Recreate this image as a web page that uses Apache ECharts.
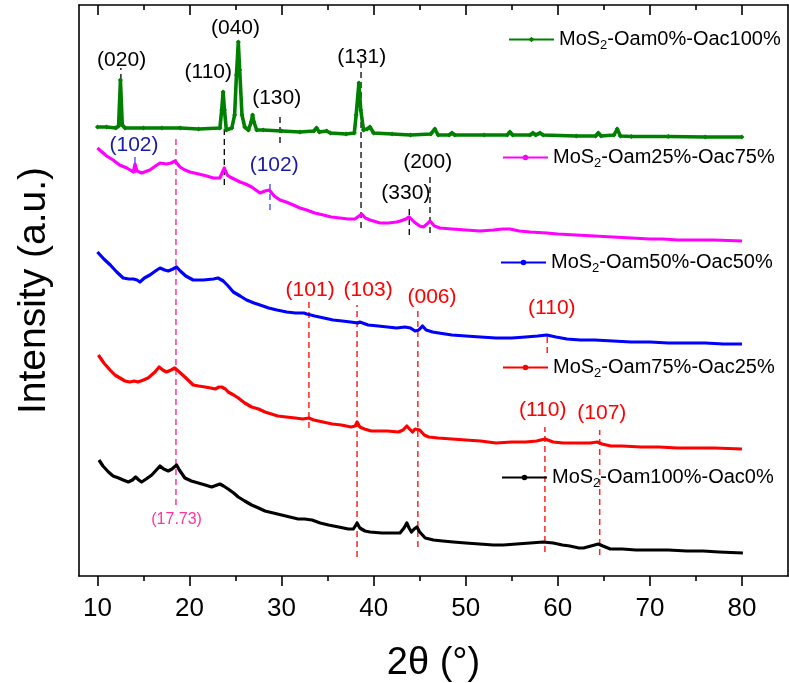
<!DOCTYPE html>
<html>
<head>
<meta charset="utf-8">
<script src="https://cdn.jsdelivr.net/npm/echarts@6/dist/echarts.min.js"></script>
<style>html,body{margin:0;padding:0;background:#fff;}#c{width:789px;height:683px;}</style>
</head>
<body>
<div id="c"></div>
<script>
// ---------------- data ----------------
const seriesNames = ['MoS2-Oam0%-Oac100%','MoS2-Oam25%-Oac75%','MoS2-Oam50%-Oac50%','MoS2-Oam75%-Oac25%','MoS2-Oam100%-Oac0%'];
const majorTicks = [10,20,30,40,50,60,70,80];
const minorTicks = [15,25,35,45,55,65,75];

const oac100 = [[10,449],[11,449],[12,448],[12.3,450],[12.5,496],[12.7,451],[13,448],[15,448],[17,448],[19,448],[21,447],[23.3,448],[23.5,466],[23.65,484],[23.8,466],[24,446],[24.6,448],[24.9,461],[25.1,501],[25.3,534],[25.45,506],[25.7,461],[26,449],[26.4,446],[26.7,454],[26.85,461],[27,454],[27.3,446],[28,446],[30,445],[32,444],[33.5,445],[33.8,448],[34.1,444],[34.9,445],[35.3,443],[37,442],[37.9,443],[38.1,461],[38.4,493],[38.6,466],[38.9,446],[39.3,447],[39.6,449],[40,443],[42,442],[44,441],[46.2,442],[46.65,447],[47,441],[48.2,441],[48.5,443],[48.8,441],[52,441],[54.5,441],[54.8,444],[55.1,441],[57,441],[57.3,443],[57.6,441],[58.07,443],[58.4,441],[62,440],[64.1,440],[64.4,443],[64.7,440],[66.1,441],[66.45,447],[66.8,440],[68,439.5],[72,439.5],[76,439],[80,439]];

const oac75 = [[10,428],[10.5,424],[11,420],[11.7,416],[12.4,411],[13.2,408],[13.9,404],[14.08,412],[14.3,405],[14.8,403],[15.7,406],[16.3,410],[16.8,413],[17.5,412],[18.0,413],[18.43,415],[18.97,409],[19.5,406],[20.05,404],[21,402],[21.87,400],[22.6,398],[23.3,398],[23.78,408],[24.1,401],[24.4,399],[25.5,394],[26.1,392],[26.75,389],[27.2,386],[27.66,383],[28.2,385],[28.67,386],[29.2,380],[29.83,376],[30.5,374],[31.27,371],[32.0,368],[32.73,366],[33.6,363],[34.53,361],[35.4,359],[36.35,358],[37.2,357],[37.97,357],[38.7,362],[39.1,358],[39.6,356],[40.7,353],[41.6,353],[42.5,354],[42.9,355],[43.5,357],[43.87,359],[44.4,354],[45.0,350],[45.4,349],[45.8,352],[46.12,355],[46.6,350],[47.2,348],[48.5,347],[50,346],[51.55,345],[53,346],[54.0,347],[54.8,347],[55.8,345],[57,344],[58.8,343],[60,342],[62,341],[64,340],[66.0,339],[68,338],[70,337],[71.46,337],[73,336],[75,336],[77,336],[80,335]];

const oac50 = [[10,324],[10.7,317],[11.4,311],[12.1,304],[12.8,298],[13.4,297],[13.9,297],[14.3,296],[14.62,294],[15.1,298],[15.7,301],[16.3,305],[16.8,308],[17.3,306],[17.7,305],[18.2,307],[18.6,309],[19.0,305],[19.6,300],[20.4,296],[21.5,296],[22.6,297],[23.1,298],[23.67,295],[24.2,290],[24.76,284],[25.5,280],[26.2,276],[27.0,273],[27.66,271],[28.6,268],[29.5,266],[30.56,264],[31.5,263],[32.42,263],[32.73,262],[33.6,260],[34.6,258],[35.6,256],[36.6,255],[37.5,254],[38.28,253],[38.5,254],[39.4,251],[40.5,250],[41.5,249],[42.5,248],[43.4,249],[44.0,248],[44.5,245],[44.9,246],[45.3,250],[45.7,246],[46.4,244],[47.07,243],[48.5,241],[50,240],[51.6,239],[53.3,238],[55,238],[56.5,239],[57.8,240],[58.8,241],[59.8,239],[61,237],[62.46,236],[64,236],[66,235],[67.96,234],[70,234],[72,233],[74,233],[76,233],[78,232],[80,232]];

const oac25 = [[10.1,221],[10.7,213],[11.37,206],[11.9,201],[12.45,198],[13.0,195],[13.5,194],[14.0,195],[14.4,194],[15.0,196],[15.5,198],[16.25,204],[16.7,209],[17.1,206],[17.5,204],[18.0,206],[18.4,208],[18.9,204],[19.5,199],[20.4,191],[21.0,190],[21.7,189],[22.3,188],[22.8,187],[23.2,189],[23.5,189],[23.9,187],[24.2,184],[24.8,181],[25.3,178],[26.0,173],[26.75,169],[27.5,167],[28.2,164],[28.9,162],[29.6,160],[30.5,159],[31.5,158],[32.3,157],[32.97,158],[33.5,156],[34.5,154],[35.5,152],[36.5,151],[37.55,149],[38.0,150],[38.2,154],[38.5,149],[39.0,147],[39.74,145],[40.5,145],[41.5,145],[42.68,144],[43.2,146],[43.6,150],[43.9,147],[44.22,144],[44.5,147],[44.7,149],[45.0,146],[45.5,141],[45.98,139],[47,138],[48.5,137],[50,136],[51.6,135],[53.3,133],[55,134],[56.5,134],[57.7,135],[58.6,137],[59.5,134],[60.6,133],[62,133],[63.5,133],[64.3,134],[64.8,132],[65.77,130],[67,130],[69,129],[71,129],[73,128],[75,128],[77,128],[80,127]];

const oac0 = [[10.17,116],[10.6,110],[11.2,104],[11.7,100],[12.3,98],[12.8,96],[13.35,94],[13.8,96],[14.15,99],[14.5,96],[14.8,94],[15.3,97],[15.9,101],[16.4,106],[16.8,110],[17.2,107],[17.7,105],[18.1,107],[18.6,111],[18.9,106],[19.5,98],[20.2,95],[20.95,93],[21.7,91],[22.4,89],[23.0,91],[23.3,92],[23.7,90],[24.2,87],[24.8,83],[25.3,79],[26.0,75],[26.75,71],[27.5,68],[28.2,65],[29.1,63],[30.0,61],[30.9,59],[31.8,57],[32.5,57],[33.3,56],[34.2,53],[35.1,51],[36.2,49],[37.25,47],[37.8,47],[38.2,53],[38.5,48],[39.05,45],[39.6,44],[40.9,43],[42.0,43],[42.86,43],[43.3,48],[43.6,53],[43.85,48],[44.1,44],[44.4,47],[44.7,49],[45.0,44],[45.6,38],[46.5,36],[47.5,35],[48.65,34],[50,33],[51.5,32],[53,31],[54.1,31],[55.5,32],[57,33],[58.4,34],[59.5,33],[60.5,31],[61.3,30],[62.3,28],[62.8,28],[63.6,30],[64.4,32],[64.9,30],[65.7,27],[67,27],[68.5,26],[70.4,26],[72,26],[74,25],[75.8,25],[77.5,24],[80.1,23]];

// reference lines: [2theta, yFrom, yTo]
const blackMarks = [[12.55,496,508],[23.78,391,448],[29.83,433,461],[38.63,348,513],[43.87,341,369],[46.12,343,399]];
const blueMarks = [[14.08,403,423],[28.74,366,394]];
const pinkMarks = [[18.53,71,438]];
const redMarks = [[32.97,148,274],[38.2,19,271],[44.8,29,269],[58.85,223,241],[58.6,24,149],[64.55,21,146]];

// peak labels: [text, 2theta, y]
const blackLabels = [['(020)',12.63,516],['(110)',22.04,504],['(040)',25.0,548],['(130)',29.47,478],['(131)',38.7,519],['(330)',43.5,383],['(200)',45.87,414]];
const blueLabels = [['(102)',13.97,431],['(102)',29.2,411]];
const redLabels = [['(101)',33.1,286],['(103)',39.4,286],['(006)',46.34,279],['(110)',59.35,268],['(110)',58.36,166],['(107)',64.78,163]];
const pinkLabels = [['(17.73)',18.6,56]];

// ---------------- chart ----------------
const FONT = '"Liberation Sans", Arial, sans-serif';
const colors = ['#008000','#ff00ff','#0000ff','#ff0000','#000000'];
const curves = [oac100, oac75, oac50, oac25, oac0];
const legendPos = [[508,27],[502,145],[500,250],[502,355],[501,465]];

const series = [];
curves.forEach((d, i) => {
  series.push({
    name: seriesNames[i], type: 'line', data: d, xAxisIndex: 0, yAxisIndex: 0,
    symbol: i === 0 ? 'diamond' : 'none',
    symbolSize: 5,
    showSymbol: i === 0,
    lineStyle: {color: colors[i], width: i === 0 ? 3.6 : 3.2, join: 'round'},
    itemStyle: {color: colors[i]},
    z: 3
  });
});

function addMarks(marks, color, width) {
  marks.forEach(m => {
    series.push({
      type: 'line', data: [[m[0], m[1]], [m[0], m[2]]], symbol: 'none',
      lineStyle: {color: color, width: width, type: [6, 4]}, z: 2, silent: true
    });
  });
}
addMarks(blackMarks, '#000000', 1.3);
addMarks(blueMarks, '#3344ff', 1.3);
addMarks(pinkMarks, '#ff3399', 1.5);
addMarks(redMarks, '#ff2222', 1.5);

function addLabels(labels, color, size) {
  series.push({
    type: 'scatter', symbolSize: 0, silent: true, z: 5,
    itemStyle: {color: color, opacity: 1},
    data: labels.map(l => ({value: [l[1], l[2]], name: l[0]})),
    label: {show: true, position: 'inside', formatter: p => p.name, color: color, fontSize: size, opacity: 1,
            fontFamily: FONT, textBorderWidth: 0, textBorderColor: 'transparent'}
  });
}
addLabels(blackLabels, '#000000', 21);
addLabels(blueLabels, '#1a1aa8', 21);
addLabels(redLabels, '#ff0000', 21);
addLabels(pinkLabels, '#ff3399', 16);

const legends = seriesNames.map((n, i) => ({
  data: [n], left: legendPos[i][0], top: legendPos[i][1], orient: 'horizontal',
  padding: 0, itemWidth: 45, itemHeight: 7, itemGap: 0,
  formatter: s => '{a|' + s.slice(0,3) + '}{s|2}{a|' + s.slice(4) + '}',
  textStyle: {color: '#000', fontFamily: FONT, fontSize: 20,
    rich: {a: {fontSize: 20, fontFamily: FONT, color: '#000', lineHeight: 24},
           s: {fontSize: 13, fontFamily: FONT, color: '#000', lineHeight: 24, padding: [12, 0, 0, 0]}}},
  selectedMode: false
}));

const axisBase = {type: 'value', min: 8, max: 85, splitLine: {show: false}};
const option = {
  animation: false,
  backgroundColor: '#fff',
  grid: {left: 79, right: 1, top: 5, bottom: 107, containLabel: false, outerBoundsMode: 'none'},
  legend: legends,
  xAxis: [
    Object.assign({}, axisBase, {position: 'bottom',
      axisLine: {show: true, lineStyle: {color: '#000', width: 1.6}},
      axisTick: {show: true, customValues: majorTicks, inside: false, length: 10, lineStyle: {color: '#000', width: 1.6}},
      axisLabel: {show: true, customValues: majorTicks, color: '#000', fontSize: 26, fontFamily: FONT, margin: 20},
      name: '2\u03b8 (\u00b0)', nameLocation: 'middle', nameGap: 69,
      nameTextStyle: {color: '#000', fontSize: 38, fontFamily: FONT}}),
    Object.assign({}, axisBase, {position: 'bottom',
      axisLine: {show: false},
      axisTick: {show: true, customValues: minorTicks, inside: false, length: 5, lineStyle: {color: '#000', width: 1.6}},
      axisLabel: {show: false}}),
    Object.assign({}, axisBase, {position: 'top',
      axisLine: {show: true, lineStyle: {color: '#000', width: 1.6}},
      axisTick: {show: true, customValues: majorTicks, inside: true, length: 10, lineStyle: {color: '#000', width: 1.6}},
      axisLabel: {show: false}}),
    Object.assign({}, axisBase, {position: 'top',
      axisLine: {show: false},
      axisTick: {show: true, customValues: minorTicks, inside: true, length: 5, lineStyle: {color: '#000', width: 1.6}},
      axisLabel: {show: false}})
  ],
  yAxis: [
    {type: 'value', min: 0, max: 571, position: 'left', splitLine: {show: false},
     axisLine: {show: true, lineStyle: {color: '#000', width: 1.6}}, axisTick: {show: false}, axisLabel: {show: false},
     name: 'Intensity (a.u.)', nameLocation: 'middle', nameGap: 25, nameRotate: 90,
     nameTextStyle: {color: '#000', fontSize: 39, fontFamily: FONT}},
    {type: 'value', min: 0, max: 571, position: 'right', splitLine: {show: false},
     axisLine: {show: true, lineStyle: {color: '#000', width: 1.6}}, axisTick: {show: false}, axisLabel: {show: false}}
  ],
  series: series
};
const chart = echarts.init(document.getElementById('c'), null, {renderer: 'canvas'});
chart.setOption(option);
</script>
</body>
</html>
